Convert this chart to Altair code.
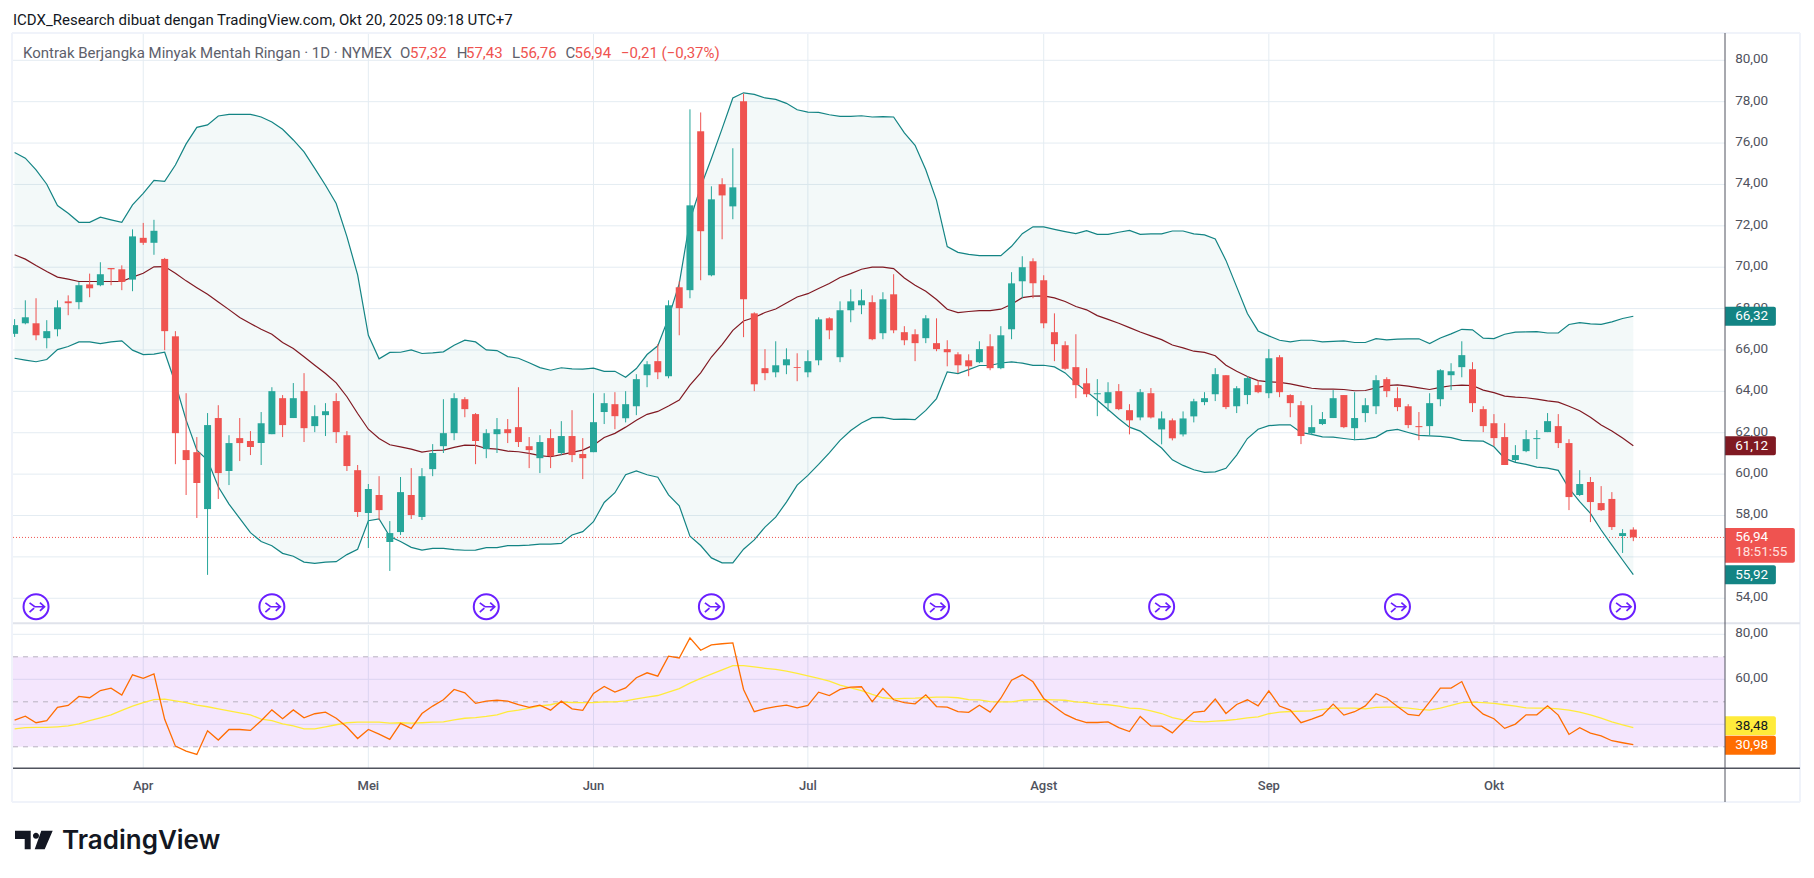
import altair as alt
import pandas as pd

opens = [66.78,67.29,67.29,66.57,67.00,68.35,68.31,69.17,69.13,69.96,69.90,69.40,71.42,71.18,70.40,66.66,61.16,61.06,58.31,62.71,
60.15,61.74,61.60,61.50,61.93,63.67,62.71,64.01,62.32,62.85,63.53,61.88,60.19,58.12,58.99,56.72,57.20,58.99,57.93,60.24,
61.35,61.98,63.62,62.90,61.21,61.93,62.17,62.27,61.35,60.77,61.74,61.02,61.84,60.97,61.06,63.00,63.38,62.70,63.28,64.78,
65.46,64.73,69.03,68.89,76.57,69.61,74.01,72.94,78.02,67.77,65.12,64.92,65.26,65.17,64.92,65.50,67.53,65.65,67.92,68.16,
68.31,66.81,68.69,66.86,66.76,66.57,66.33,66.04,65.79,65.50,65.41,66.18,65.12,67.00,69.32,70.29,69.37,66.86,66.23,65.17,
64.39,63.86,63.43,64.01,63.09,62.74,63.91,62.16,62.60,61.92,62.79,63.48,63.86,64.78,63.28,63.82,64.30,63.91,65.65,63.82,
63.33,61.98,62.42,62.71,63.82,62.22,62.95,63.28,64.59,63.67,63.28,62.32,62.32,63.62,64.78,65.17,65.07,63.14,62.46,61.79,
60.68,61.11,61.69,62.03,62.32,61.50,58.99,59.62,58.60,58.80,57.01,57.32]
highs = [67.49,68.40,68.50,67.44,68.40,68.64,69.29,69.69,70.24,69.96,70.09,71.83,72.14,72.29,70.45,66.91,63.91,61.79,62.95,63.33,
61.88,62.71,62.08,63.00,64.20,63.82,64.40,64.88,63.33,63.43,63.91,62.08,60.44,59.52,59.90,57.73,59.86,60.29,60.29,61.45,
63.62,63.91,63.72,62.95,62.17,62.71,62.66,64.20,61.79,61.88,62.17,62.56,63.09,61.74,63.91,63.91,63.96,64.01,64.83,65.46,
66.28,68.40,69.32,77.63,77.48,73.91,74.30,75.75,78.39,67.82,66.04,66.42,66.08,65.84,65.99,67.58,67.58,68.35,68.93,68.93,
68.64,68.79,69.66,67.15,67.00,67.68,67.53,66.47,65.89,65.79,66.42,66.76,67.15,69.76,70.53,70.43,69.61,67.77,66.42,66.76,
65.12,64.59,64.44,64.35,63.38,64.11,64.16,63.03,62.69,63.03,63.64,63.96,65.12,64.78,64.25,64.73,64.54,66.04,65.75,63.86,
63.53,63.33,63.00,64.06,63.82,63.96,63.67,64.78,64.68,64.20,63.38,63.00,63.91,65.07,65.36,66.42,65.41,63.28,62.90,62.46,
61.40,62.13,62.13,62.95,62.90,61.69,60.19,59.86,59.42,59.13,57.34,57.43]
lows = [66.63,67.24,66.47,66.08,66.66,67.68,67.97,68.55,69.08,69.13,68.89,68.84,71.08,70.60,65.99,60.48,58.99,57.88,55.13,58.80,
59.47,60.63,60.92,60.44,61.93,61.79,62.71,61.55,62.03,61.84,61.50,60.15,57.93,56.43,57.78,55.32,57.06,57.83,57.78,59.90,
61.02,61.64,62.75,60.48,60.77,61.02,61.50,61.31,60.29,60.05,60.29,60.92,60.58,59.76,61.06,62.42,62.17,62.50,62.85,64.20,
64.59,64.63,66.71,68.50,69.37,69.56,71.35,72.32,66.62,64.01,64.54,64.68,64.83,64.49,64.68,65.26,66.52,65.41,67.34,67.73,
66.47,66.52,66.81,66.23,65.46,66.33,65.94,65.21,64.88,64.73,65.36,65.02,65.07,66.52,68.50,68.50,67.05,65.46,65.04,63.67,
63.72,62.80,63.04,63.09,61.92,62.60,62.69,61.44,61.63,61.82,62.50,63.33,63.53,63.14,62.95,63.38,63.91,63.67,63.72,62.75,
61.45,61.88,62.37,62.71,62.22,61.64,62.51,62.90,63.72,63.04,62.22,61.64,61.88,63.28,64.06,64.68,63.00,62.03,61.35,60.44,
60.58,61.06,60.73,62.03,61.26,58.26,58.94,57.68,58.22,57.30,56.19,56.76]
closes = [67.20,67.58,66.71,66.91,68.06,68.26,69.13,68.98,69.66,69.90,69.29,71.49,71.18,71.76,66.91,61.98,60.68,59.57,62.37,60.05,
61.50,61.50,61.31,62.46,64.01,62.37,63.67,62.22,62.80,63.04,62.03,60.39,58.17,59.28,58.26,57.15,59.13,58.02,59.90,61.02,
61.98,63.67,63.14,61.60,61.98,62.17,61.98,61.55,61.16,61.55,60.87,61.84,60.92,60.77,62.51,63.43,62.80,63.38,64.59,65.31,
64.92,68.16,68.02,72.99,71.74,73.28,73.47,73.86,68.45,64.34,64.88,65.26,65.55,65.13,65.46,67.48,66.95,67.92,68.35,68.40,
66.52,68.45,66.95,66.47,66.33,67.53,66.04,65.89,65.26,65.21,66.04,65.12,66.71,69.22,70.00,69.22,67.29,66.28,65.09,64.30,
63.86,63.91,63.96,63.14,62.60,63.96,62.74,62.69,61.73,62.69,63.52,63.67,64.83,63.24,64.15,64.64,63.96,65.60,63.96,63.43,
61.84,62.27,62.66,63.67,62.27,62.71,63.33,64.54,64.01,63.24,62.37,62.27,63.43,65.02,64.97,65.75,63.43,62.32,61.74,60.44,
60.92,61.69,61.74,62.56,61.50,58.89,59.52,58.65,58.26,57.44,57.15,56.94]

bb_upper = [75.54,75.27,74.70,74.01,72.98,72.61,72.17,72.17,72.42,72.29,72.17,73.01,73.57,74.20,74.15,74.94,75.96,76.76,76.88,77.31,
77.39,77.39,77.39,77.26,77.02,76.67,76.15,75.57,74.78,73.96,73.08,71.48,69.63,66.71,65.57,65.88,65.89,66.00,65.83,65.86,
65.91,66.23,66.47,66.39,66.00,65.97,65.68,65.60,65.38,65.15,65.02,65.14,65.09,65.07,65.12,64.97,64.97,64.68,65.10,65.78,
66.20,67.55,69.21,72.27,73.88,75.25,76.70,78.18,78.43,78.35,78.18,78.11,77.92,77.61,77.50,77.48,77.37,77.29,77.29,77.32,
77.26,77.28,77.26,76.49,75.89,74.71,73.23,71.00,70.72,70.62,70.56,70.56,70.56,71.01,71.62,71.95,71.95,71.83,71.72,71.62,
71.77,71.59,71.59,71.69,71.78,71.59,71.61,71.61,71.75,71.75,71.61,71.56,71.37,70.33,69.05,67.76,66.92,66.68,66.47,66.39,
66.47,66.47,66.39,66.42,66.44,66.36,66.36,66.55,66.49,66.52,66.54,66.54,66.31,66.58,66.78,67.00,66.97,66.57,66.55,66.76,
66.86,66.87,66.89,66.82,66.82,67.23,67.32,67.26,67.24,67.36,67.52,67.63]
bb_basis = [70.60,70.39,70.08,69.79,69.52,69.42,69.31,69.31,69.31,69.31,69.31,69.52,69.71,70.02,70.03,69.71,69.34,69.01,68.69,68.32,
67.95,67.57,67.28,67.00,66.76,66.36,66.07,65.67,65.26,64.86,64.41,63.74,62.93,62.17,61.72,61.42,61.32,61.21,61.06,61.14,
61.16,61.29,61.40,61.39,61.24,61.21,61.11,61.08,61.00,60.89,60.84,60.94,61.05,61.16,61.40,61.77,61.97,62.27,62.60,62.89,
63.03,63.29,63.58,64.30,64.89,65.66,66.26,66.95,67.40,67.57,67.81,67.98,68.27,68.56,68.72,68.97,69.21,69.50,69.69,69.90,
70.00,70.00,69.93,69.48,69.13,68.84,68.44,67.97,67.81,67.86,67.90,67.90,67.97,68.21,68.53,68.60,68.61,68.52,68.34,68.10,
67.94,67.66,67.48,67.29,67.08,66.87,66.68,66.50,66.24,66.10,65.94,65.88,65.72,65.26,64.97,64.72,64.52,64.46,64.43,64.36,
64.25,64.15,64.11,64.11,64.09,64.03,64.04,64.17,64.28,64.31,64.25,64.17,64.09,64.19,64.27,64.30,64.28,64.06,63.94,63.77,
63.72,63.69,63.62,63.54,63.48,63.28,63.06,62.75,62.37,62.08,61.74,61.37]
bb_lower = [65.60,65.51,65.43,65.54,66.02,66.17,66.39,66.39,66.31,66.39,66.44,65.99,65.78,65.80,65.89,64.38,62.61,61.16,60.68,59.39,
58.55,57.86,57.17,56.74,56.54,56.17,56.03,55.75,55.69,55.75,55.77,56.11,56.37,57.75,57.83,56.98,56.74,56.46,56.33,56.41,
56.41,56.35,56.32,56.33,56.45,56.45,56.54,56.54,56.57,56.62,56.62,56.65,57.06,57.22,57.70,58.63,59.10,59.97,60.15,59.97,
59.85,59.00,58.47,57.00,56.55,55.95,55.71,55.71,56.37,56.82,57.44,57.92,58.65,59.47,59.94,60.47,61.03,61.63,62.11,62.47,
62.73,62.74,62.65,62.66,62.63,63.08,63.65,64.94,64.86,65.05,65.25,65.25,65.37,65.42,65.36,65.26,65.26,65.18,64.89,64.40,
64.00,63.57,63.12,62.68,62.27,62.08,61.66,61.26,60.69,60.42,60.21,60.08,60.11,60.28,60.92,61.72,62.17,62.34,62.38,62.38,
62.01,61.92,61.80,61.79,61.72,61.66,61.69,61.79,62.09,62.16,62.01,61.87,61.85,61.82,61.76,61.63,61.61,61.59,61.32,60.76,
60.57,60.47,60.34,60.29,60.18,59.31,58.67,58.10,57.30,56.57,55.85,55.14]

rsi = [41.9,43.6,40.7,41.6,47.5,48.4,52.4,51.8,55.0,56.1,53.0,62.0,60.4,62.4,42.2,30.3,28.1,26.6,37.1,33.0,
37.7,37.7,37.3,41.6,46.4,42.5,46.4,42.9,44.7,45.4,42.7,38.8,33.7,37.7,35.6,33.3,40.4,38.2,44.8,48.1,
50.9,55.5,54.0,49.3,50.3,50.7,50.3,48.7,47.5,48.5,46.3,50.3,46.9,46.2,53.7,56.8,54.3,56.2,60.7,62.9,
61.4,70.3,69.5,78.4,72.9,75.3,75.8,76.2,55.5,45.6,47.0,47.9,48.5,47.3,48.4,54.3,52.8,55.5,56.5,56.7,
50.1,55.9,50.9,49.6,49.1,53.1,47.9,47.6,45.6,45.3,48.5,45.4,51.6,59.6,62.0,58.9,51.5,47.8,44.4,42.2,
40.8,40.8,41.1,38.5,36.8,43.5,39.3,39.2,36.2,41.0,45.3,45.9,51.2,44.8,48.8,50.9,48.2,54.9,48.1,46.3,
40.7,42.3,44.1,49.0,44.1,45.6,48.2,53.6,51.6,47.9,44.4,43.9,50.0,56.1,56.1,59.0,48.7,44.5,42.5,38.2,
40.1,44.2,44.2,48.2,44.1,35.5,38.5,36.1,34.9,32.7,31.8,30.98]
rsi_ma = [38.0,38.5,38.6,38.6,38.9,39.3,40.2,41.6,42.9,44.2,46.2,48.1,49.6,51.0,51.2,50.4,49.6,48.5,47.8,46.9,
46.0,45.1,44.2,42.3,41.6,40.2,39.3,38.0,38.0,38.9,39.8,40.7,41.0,41.0,41.0,40.5,40.7,40.5,40.7,41.0,
41.1,42.0,42.7,43.0,43.5,44.2,45.6,46.3,47.2,48.2,48.7,49.9,49.7,49.6,49.7,50.0,50.0,50.4,51.3,52.1,
52.8,54.3,55.9,58.3,60.4,62.3,64.2,66.1,66.1,65.5,64.9,64.4,63.6,62.6,61.5,60.4,59.2,57.4,56.2,55.0,
53.3,51.8,51.3,51.5,51.6,51.9,52.1,52.1,51.8,51.0,50.9,50.1,50.0,50.0,50.7,51.0,51.0,50.9,50.7,50.0,
49.6,49.0,48.7,48.1,47.2,47.0,46.0,44.8,43.0,42.0,41.3,41.1,41.4,41.7,42.2,42.9,43.3,44.7,45.4,45.7,
45.9,46.0,46.6,47.2,47.2,47.2,46.9,47.5,47.6,47.6,47.2,46.6,46.3,47.2,48.4,49.6,49.9,49.6,49.3,48.7,
48.1,47.3,47.2,47.2,46.9,46.3,45.4,44.2,42.7,41.1,39.8,38.48]

month_bars = [12,33,54,74,96,117,138]
month_labels = ["Apr","Mei","Jun","Jul","Agst","Sep","Okt"]
price_ticks = [80,78,76,74,72,70,68,66,64,62,60,58,56,54]
rsi_grid = [80,60,40]
rsi_dash = [70,50,30]
rsi_labels = [80,60]
event_bars = [2,24,44,65,86,107,129,150]

TITLE = "ICDX_Research dibuat dengan TradingView.com, Okt 20, 2025 09:18 UTC+7"
LEGEND = "Kontrak Berjangka Minyak Mentah Ringan \u00b7 1D \u00b7 NYMEX"

df = pd.DataFrame(dict(i=range(len(opens)), o=opens, h=highs, l=lows, c=closes,
                       up=bb_upper, mid=bb_basis, lo=bb_lower, rsi=rsi, ma=rsi_ma))
df["dir"] = ["up" if c >= o else "down" for o, c in zip(opens, closes)]

W, H = 1798, 862
FONT = "Roboto"
TEXT = "#50535e"
LEG = "#5d606b"
GRID = "#e4ecf2"
TEAL = "#138484"
MAROON = "#801922"
RED = "#ef5350"
GREEN = "#26a69a"
ORANGE = "#ff6d00"
YELLOW = "#ffeb3b"
PURPLE = "#6a1fff"

# scales that place each panel in its band of the one canvas
x_scale = alt.Scale(domain=[-0.6157, 167.109], nice=False, zero=False, padding=0)
p_scale = alt.Scale(domain=[40.866, 82.528], nice=False, zero=False, padding=0)
r_scale = alt.Scale(domain=[-24.75, 358.36], nice=False, zero=False, padding=0)

X = lambda f="i": alt.X(f"{f}:Q", scale=x_scale, axis=None)
P = lambda f: alt.Y(f"{f}:Q", scale=p_scale, axis=None)
R = lambda f: alt.Y(f"{f}:Q", scale=r_scale, axis=None)

PLOT_L, PLOT_R, CHIP_R, CHIP_R2 = -0.15, 159.55, 164.3, 166.07
LABEL_X = 160.5
PX_P, PX_R = 20.69, 2.25


def hlines(values, ax, **mark):
    d = pd.DataFrame({"v": values, "a": PLOT_L, "b": PLOT_R})
    return alt.Chart(d).mark_rule(**mark).encode(x=X("a"), x2="b:Q", y=ax("v"))


def chip(center, half_px, px, ax, color, right=CHIP_R):
    d = pd.DataFrame([{"a": PLOT_R, "b": right, "t": center + half_px / px, "u": center - half_px / px}])
    return alt.Chart(d).mark_rect(color=color, cornerRadiusTopRight=2, cornerRadiusBottomRight=2).encode(
        x=X("a"), x2="b:Q", y=ax("t"), y2="u:Q")


def chip_text(label, center, ax, color, size=13.5):
    d = pd.DataFrame([{"a": LABEL_X, "v": center, "t": label}])
    return alt.Chart(d).mark_text(color=color, font=FONT, fontSize=size, align="left", baseline="middle").encode(
        x=X("a"), y=ax("v"), text="t:N")


def plain_text(label, x, y, color=LEG, size=15, weight="normal", align="left", baseline="middle", font=FONT):
    d = pd.DataFrame([{"t": label}])
    return alt.Chart(d).mark_text(color=color, font=font, fontSize=size, fontWeight=weight,
                                  align=align, baseline=baseline).encode(
        x=alt.value(x - 8), y=alt.value(y - 8), text="t:N")


# price pane
month_df = pd.DataFrame({"i": month_bars, "t": month_labels, "pa": 81.32, "pb": 52.79, "ra": 84.13, "rb": 20.44})
event_df = pd.DataFrame({"i": event_bars, "p": 53.59})

ring = alt.Chart(event_df).mark_point(shape="circle", size=625, fill="white", filled=True, stroke=PURPLE,
                                      strokeWidth=2, opacity=1).encode(x=X(), y=P("p"))
glyph = alt.Chart(event_df).mark_point(
    shape="M -0.5 -0.3 L -0.1 0 L 0.65 0 M 0.3 -0.32 L 0.65 0 L 0.3 0.32 M -0.5 0.42 L -0.15 0.1",
    size=676, filled=False, stroke=PURPLE, strokeWidth=1.7, opacity=1).encode(x=X(), y=P("p"))

color_enc = alt.Color("dir:N", scale=alt.Scale(domain=["up", "down"], range=[GREEN, RED]), legend=None)

price_tick_df = pd.DataFrame({"v": price_ticks, "t": [f"{v},00" for v in price_ticks], "a": LABEL_X})

price = alt.layer(
    alt.Chart(month_df).mark_rule(color=GRID, strokeWidth=1).encode(x=X(), y=P("pa"), y2="pb:Q"),
    hlines(price_ticks, P, color=GRID, strokeWidth=1),
    alt.Chart(df).mark_area(color=TEAL, opacity=0.05).encode(x=X(), y=P("up"), y2="lo:Q"),
    hlines([closes[-1]], P, color=RED, strokeWidth=1, strokeDash=[1, 2]),
    alt.Chart(df).mark_line(color=TEAL, strokeWidth=1.2).encode(x=X(), y=P("up")),
    alt.Chart(df).mark_line(color=TEAL, strokeWidth=1.2).encode(x=X(), y=P("lo")),
    alt.Chart(df).mark_line(color=MAROON, strokeWidth=1.2).encode(x=X(), y=P("mid")),
    alt.Chart(df).mark_rule(strokeWidth=1).encode(x=X(), y=P("h"), y2="l:Q", color=color_enc),
    alt.Chart(df).mark_bar(size=7).encode(x=X(), y=P("o"), y2="c:Q", color=color_enc),
    ring, glyph,
    alt.Chart(price_tick_df).mark_text(color=TEXT, font=FONT, fontSize=13.5, align="left", baseline="middle", dy=-1).encode(
        x=X("a"), y=P("v"), text="t:N"),
    chip(bb_upper[-1], 9.5, PX_P, P, TEAL),
    chip_text("66,32", bb_upper[-1], P, "white"),
    chip(bb_basis[-1], 9.5, PX_P, P, MAROON),
    chip_text("61,12", bb_basis[-1], P, "white"),
    chip(bb_lower[-1], 9.5, PX_P, P, TEAL),
    chip_text("55,92", bb_lower[-1], P, "white"),
    chip(56.56, 17.4, PX_P, P, RED, CHIP_R2),
    chip_text("56,94", closes[-1], P, "white"),
    chip_text("18:51:55", 56.22, P, "#ffe0df"),
)

# RSI pane
rsi_tick_df = pd.DataFrame({"v": rsi_labels, "t": [f"{v},00" for v in rsi_labels], "a": LABEL_X})
band_df = pd.DataFrame([{"a": PLOT_L, "b": PLOT_R, "t": rsi_dash[0], "u": rsi_dash[-1]}])

rsi_pane = alt.layer(
    alt.Chart(month_df).mark_rule(color=GRID, strokeWidth=1).encode(x=X(), y=R("ra"), y2="rb:Q"),
    hlines(rsi_grid, R, color=GRID, strokeWidth=1),
    alt.Chart(band_df).mark_rect(color="#9105eb", opacity=0.1).encode(x=X("a"), x2="b:Q", y=R("t"), y2="u:Q"),
    hlines(rsi_dash, R, color="#b8b2c0", strokeWidth=1, strokeDash=[5, 5]),
    alt.Chart(df).mark_line(color=YELLOW, strokeWidth=1.3).encode(x=X(), y=R("ma")),
    alt.Chart(df).mark_line(color=ORANGE, strokeWidth=1.3).encode(x=X(), y=R("rsi")),
    alt.Chart(rsi_tick_df).mark_text(color=TEXT, font=FONT, fontSize=13.5, align="left", baseline="middle", dy=-1).encode(
        x=X("a"), y=R("v"), text="t:N"),
    chip(39.4, 9.5, PX_R, R, YELLOW),
    chip_text("38,48", 39.4, R, "#131722"),
    chip(30.7, 9.5, PX_R, R, ORANGE),
    chip_text("30,98", 30.7, R, "white"),
)


def frame(x=None, x2=None, y=None, y2=None, color="#f0f3fa", width=2):
    d = pd.DataFrame([{"k": 0}])
    return alt.Chart(d).mark_rule(color=color, strokeWidth=width).encode(
        x=alt.value(x), x2=alt.value(x2 if x2 is not None else x),
        y=alt.value(y), y2=alt.value(y2 if y2 is not None else y))


chrome = alt.layer(
    frame(4, 4, 25, 794),
    frame(1792, 1792, 25, 794),
    frame(4, 1792, 25, 25),
    frame(4, 1792, 794, 794),
    frame(5, 1792, 615.3, 615.3, "#e0e3eb", 2),
    frame(5, 1792, 760.3, 760.3, TEXT, 1.5),
    frame(1717, 1717, 25, 794, TEXT, 1),
)

months = alt.Chart(month_df).mark_text(color=TEXT, font=FONT, fontSize=13, fontWeight=500,
                                       align="center", baseline="middle").encode(
    x=X(), y=alt.value(777.7), text="t:N")

logo_df = pd.DataFrame([{"k": 0}])
logo = alt.Chart(logo_df).mark_point(
    shape=("M -1.047 -0.517 L -0.175 -0.517 L -0.175 0.517 L -0.508 0.517 L -0.508 -0.056 L -1.047 -0.056 Z "
           "M -0.048 -0.239 A 0.167 0.167 0 1 0 0.286 -0.239 A 0.167 0.167 0 1 0 -0.048 -0.239 Z "
           "M 0.414 -0.517 L 1.047 -0.517 L 0.603 0.517 L 0.047 0.517 Z"),
    size=1296, filled=True, fill="#131722", strokeWidth=0, opacity=1).encode(
    x=alt.value(33.85 - 8), y=alt.value(840 - 8))

texts = alt.layer(
    plain_text(TITLE, 13, 20, "#131722"),
    plain_text(LEGEND, 23, 53),
    plain_text("O", 400, 53), plain_text("57,32", 410, 53, RED),
    plain_text("H", 456.7, 53), plain_text("57,43", 466, 53, RED),
    plain_text("L", 512, 53), plain_text("56,76", 520, 53, RED),
    plain_text("C", 565.4, 53), plain_text("56,94", 574.5, 53, RED),
    plain_text("\u22120,21 (\u22120,37%)", 621, 53, RED),
    months,
    logo,
    plain_text("TradingView", 62, 849.3, "#131722", 26, 600, "left", "alphabetic", "Inter"),
)

chart = alt.layer(price, rsi_pane, chrome, texts).resolve_scale(y="independent").properties(
    width=W, height=H, padding=0, autosize=alt.AutoSizeParams(type="none"), background="white"
).configure_view(stroke=None)

chart.save("out.html", embed_options={"renderer": "svg", "actions": False})
